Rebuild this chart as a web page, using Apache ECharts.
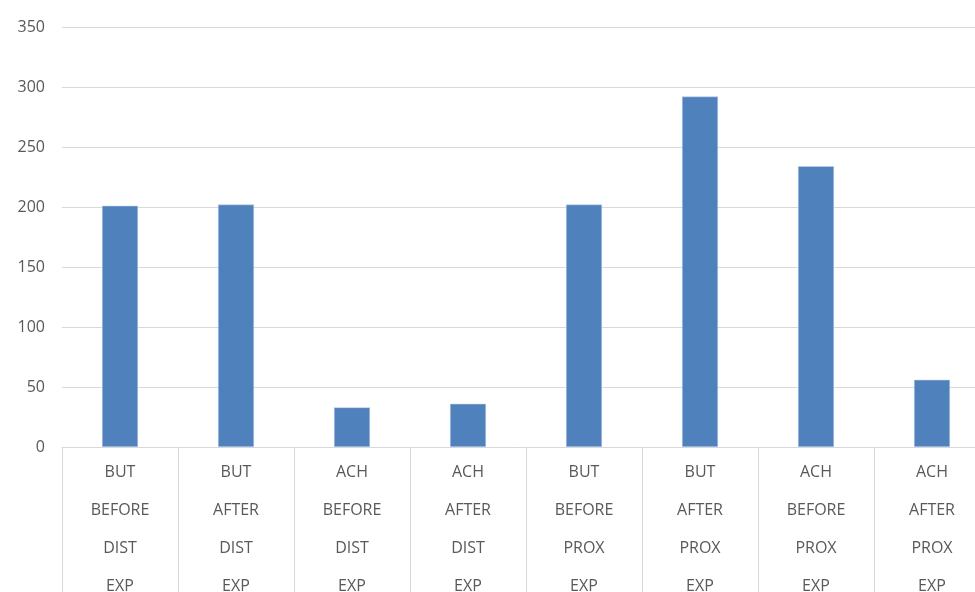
<!DOCTYPE html>
<html>
<head>
<meta charset="utf-8">
<style>
  html, body { margin: 0; padding: 0; background: #fff; }
  #main { width: 975px; height: 592px; }
</style>
<script src="https://cdn.jsdelivr.net/npm/echarts@6/dist/echarts.min.js"></script>
</head>
<body>
<div id="main"></div>
<script>
// categories (each one is four stacked words)
var categories = [
  'BUT\nBEFORE\nDIST\nEXP',
  'BUT\nAFTER\nDIST\nEXP',
  'ACH\nBEFORE\nDIST\nEXP',
  'ACH\nAFTER\nDIST\nEXP',
  'BUT\nBEFORE\nPROX\nEXP',
  'BUT\nAFTER\nPROX\nEXP',
  'ACH\nBEFORE\nPROX\nEXP',
  'ACH\nAFTER\nPROX\nEXP'
]
var values = [201, 202, 33, 36, 202, 292, 234, 56]
var yTicks = [0, 50, 100, 150, 200, 250, 300, 350]

var myChart = echarts.init(document.getElementById('main'))
myChart.setOption({
  animation: false,
  grid: {
    left: 62,
    top: 27,
    width: 928,
    height: 420,
    containLabel: false,
    outerBoundsMode: 'none'
  },
  xAxis: {
    type: 'category',
    data: categories,
    axisLine: {
      lineStyle: { color: '#d9d9d9', width: 1 }
    },
    axisTick: {
      show: true,
      alignWithLabel: false,
      length: 150,
      lineStyle: { color: '#d9d9d9' }
    },
    axisLabel: {
      color: '#595959',
      fontFamily: 'Open Sans',
      fontSize: 16,
      lineHeight: 38,
      margin: 6,
      interval: 0
    }
  },
  yAxis: {
    type: 'value',
    min: yTicks[0],
    max: yTicks[yTicks.length - 1],
    interval: 50,
    axisLine: { show: false },
    axisTick: { show: false },
    axisLabel: {
      color: '#595959',
      fontFamily: 'Open Sans',
      fontSize: 16,
      margin: 17
    },
    splitLine: {
      lineStyle: { color: '#d9d9d9', width: 1 }
    }
  },
  series: [{
    type: 'bar',
    data: values,
    barWidth: 36,
    itemStyle: {
      color: '#4f81bd',
      borderColor: '#c6d6ea',
      borderWidth: 0.5
    }
  }]
})
</script>
</body>
</html>
